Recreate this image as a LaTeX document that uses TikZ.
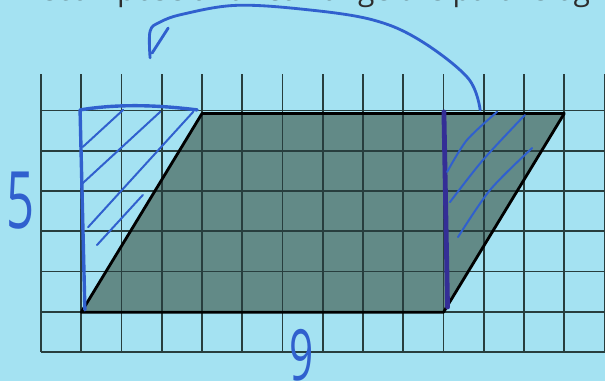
\documentclass[tikz,border=0pt]{standalone}
\usepackage{fontspec}
\setmainfont{Open Sans}
\usepackage{tikz}
\usetikzlibrary{calc}
\definecolor{mysky}{RGB}{164,226,242}
\definecolor{myshade}{RGB}{98,138,135}
\definecolor{mygrid}{RGB}{40,62,62}
\definecolor{mypen}{RGB}{48,96,206}
\definecolor{mydeep}{RGB}{52,46,150}
\definecolor{mytext}{RGB}{45,45,45}
\tikzset{
  gridline/.style={color=mygrid, line width=1.1pt},
  pgram/.style={draw=black, line width=2pt, line join=round},
  pen/.style={color=mypen, line width=2pt, line cap=round, line join=round},
  hatch/.style={color=mypen, line width=1.4pt, line cap=round},
  heavypen/.style={color=mydeep, line width=3.4pt, line cap=round},
  digit/.style={color=mypen, inner sep=0pt}
}

\begin{document}
\begin{tikzpicture}[x=1cm, y=0.9876cm]
  % Page
  \fill[mysky] (-1.019,-0.730) rectangle (14.012,8.855);
  \useasboundingbox (-1.019,-0.730) rectangle (14.012,8.855);
  \clip (-1.019,-0.730) rectangle (14.012,8.855);

  % Task text, cut off at the top
  \node[anchor=base west, color=mytext, inner sep=0pt,
    font=\fontsize{21.2}{24}\selectfont] (task) at (-1.07,8.85)
    {r Decompose and rearrange the parallelogram};

  % Parallelogram on squared paper
  \coordinate (bl) at (1,1);
  \coordinate (br) at (10,1);
  \coordinate (tr) at (13,6);
  \coordinate (tl) at (4,6);
  \fill[myshade] (bl) -- (br) -- (tr) -- (tl) -- cycle;
  \draw[gridline] (0,0) grid (14,7);
  \draw[pgram] (bl) -- (br) -- (tr) -- (tl) -- cycle;

  % Cut-off triangle on the right
  \draw[heavypen] (10.01,6.04) -- (10.1,1.13);
  \draw[hatch] plot[smooth] coordinates {(10.09,4.53) (10.58,5.33) (11.33,6.04)};
  \draw[hatch] plot[smooth] coordinates {(10.16,3.77) (10.98,4.83) (12.02,5.96)};
  \draw[hatch] plot[smooth] coordinates {(10.36,2.89) (11.16,4.08) (12.2,5.13)};

  % Moved triangle on the left
  \draw[pen, line width=2.4pt] (1.09,1.06) -- (0.97,6.09)
    .. controls (2.0,6.26) and (3.0,6.2) .. (3.88,6.09);
  \draw[hatch] (1.04,5.16) -- (2.04,6.09);
  \draw[hatch] (1.04,4.25) -- (2.96,6.04);
  \draw[hatch] (1.17,3.14) -- (3.78,6.04);
  \draw[hatch] (1.39,2.69) -- (2.53,3.95);

  % Arrow
  \draw[pen] plot[smooth, tension=0.6] coordinates {(10.91,6.09) (10.6,6.9)
    (9.4,7.85) (8.22,8.36) (6.53,8.62) (4.84,8.72) (3.53,8.5) (2.96,8.3)
    (2.71,8.07) (2.71,7.40)};
  \draw[pen] (3.16,8.15) -- (2.76,7.52);

  % Measures
  \node[digit, font=\fontsize{56}{56}\selectfont] (height) at (-0.50,3.80)
    {\scalebox{0.62}[1]{5}};
  \node[digit, font=\fontsize{50}{50}\selectfont] (base) at (6.48,-0.075)
    {\scalebox{0.6}[1]{9}};
\end{tikzpicture}
\end{document}
